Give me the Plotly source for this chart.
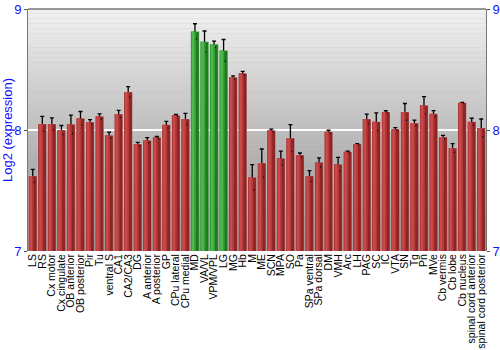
import plotly.graph_objects as go

regions = ["LS", "RS", "Cx motor", "Cx cingulate", "OB anterior", "OB posterior", "Pir", "Tu",
           "ventral S", "CA1", "CA2/CA3", "DG", "A anterior", "A posterior", "GP", "CPu lateral",
           "CPu medial", "MD", "VA/VL", "VPM/VPL", "LG", "MG", "Hb", "M", "ME", "SCN", "MPA", "SO",
           "Pa", "SPa ventral", "SPa dorsal", "DM", "VMH", "Arc", "LH", "PAG", "SC", "IC", "VTA",
           "SN", "Tg", "Pn", "MVe", "Cb vermis", "Cb lobe", "Cb nucleus", "spinal cord anterior",
           "spinal cord posterior"]
values = [7.62, 8.05, 8.05, 8.00, 8.047, 8.097, 8.066, 8.113, 7.956, 8.132, 8.314, 7.884, 7.915,
          7.94, 8.044, 8.121, 8.091, 8.815, 8.73, 8.708, 8.658, 8.435, 8.468, 7.609, 7.727, 7.997,
          7.766, 7.934, 7.793, 7.62, 7.733, 7.986, 7.716, 7.821, 7.884, 8.091, 8.069, 8.149, 8.008,
          8.149, 8.058, 8.204, 8.135, 7.942, 7.851, 8.226, 8.069, 8.017]
errors = [0.054, 0.062, 0.05, 0.037, 0.076, 0.056, 0.02, 0.02, 0.026, 0.03, 0.044, 0.014, 0.022,
          0.008, 0.028, 0.007, 0.047, 0.063, 0.088, 0.026, 0.09, 0.012, 0.017, 0.105, 0.116, 0.01,
          0.059, 0.11, 0.017, 0.045, 0.037, 0.012, 0.058, 0.004, 0.004, 0.041, 0.073, 0.01, 0.011,
          0.07, 0.023, 0.072, 0.025, 0.014, 0.036, 0.003, 0.028, 0.074]
highlight = ["MD", "VA/VL", "VPM/VPL", "LG"]

y_min, y_max = 7, 9
tick_vals = [7, 8, 9]

dark = ["#1f7a1f" if r in highlight else "#8e2424" for r in regions]
mid = ["#36a036" if r in highlight else "#b33838" for r in regions]
light = ["#4cba4c" if r in highlight else "#c94a4a" for r in regions]

fig = go.Figure()
fig.add_trace(go.Bar(x=regions, y=values, width=0.88, marker=dict(color=dark, line=dict(color="rgba(255,255,255,0.25)", width=1)),
                     error_y=dict(type="data", array=errors, color="black", thickness=1.3, width=2),
                     hoverinfo="x+y", showlegend=False))
fig.add_trace(go.Bar(x=regions, y=values, width=0.5, offset=-0.4, marker=dict(color=mid, line=dict(width=0)),
                     hoverinfo="skip", showlegend=False))
fig.add_trace(go.Bar(x=regions, y=values, width=0.25, offset=-0.33, marker=dict(color=light, line=dict(width=0)),
                     hoverinfo="skip", showlegend=False))
# invisible trace to activate right axis
fig.add_trace(go.Scatter(x=[regions[0]], y=[y_min], yaxis="y2", mode="markers",
                         marker=dict(opacity=0), hoverinfo="skip", showlegend=False))

# gradient background
n = 50
shapes = []
for i in range(n):
    y0 = y_min + (y_max - y_min) * i / n
    y1 = y_min + (y_max - y_min) * (i + 1) / n
    t = (i + 0.5) / n
    g = int(138 + (242 - 138) * t)
    shapes.append(dict(type="rect", xref="paper", yref="y", x0=0, x1=1, y0=y0, y1=y1,
                       fillcolor=f"rgb({g},{g},{g})", line=dict(width=0), layer="below"))

blue = "#1010ff"
fig.update_layout(
    width=500, height=350,
    margin=dict(l=28, r=14, t=9, b=99, autoexpand=False),
    paper_bgcolor="white", plot_bgcolor="#c0c0c0",
    barmode="overlay", bargap=0.1,
    shapes=shapes,
    font=dict(family="Liberation Sans, Arial, sans-serif", color="black"),
    xaxis=dict(tickangle=-90, tickfont=dict(size=10.5, color="black"), showgrid=False,
               showline=False, ticks="", tickmode="linear", dtick=1, automargin=False,
               range=[-0.5, len(regions) - 0.5]),
    yaxis=dict(range=[y_min, y_max], tickvals=tick_vals, tickfont=dict(size=13, color=blue),
               showgrid=True, gridcolor="white", gridwidth=1.5, zeroline=False, automargin=False,
               showline=True, linecolor="#777777", mirror=False, ticks="outside", ticklen=3,
               tickcolor="#555555",
               title=dict(text="Log2 (expression)", font=dict(size=13, color=blue), standoff=4)),
    yaxis2=dict(range=[y_min, y_max], tickvals=tick_vals, overlaying="y", side="right",
                tickfont=dict(size=13, color=blue), showgrid=False, zeroline=False, automargin=False,
                showline=True, linecolor="#777777", ticks="outside", ticklen=3, tickcolor="#555555"),
)
fig.add_shape(type="line", xref="paper", yref="paper", x0=0, x1=1, y0=1, y1=1,
              line=dict(color="#777777", width=1.5))
fig.write_html("out.html")
